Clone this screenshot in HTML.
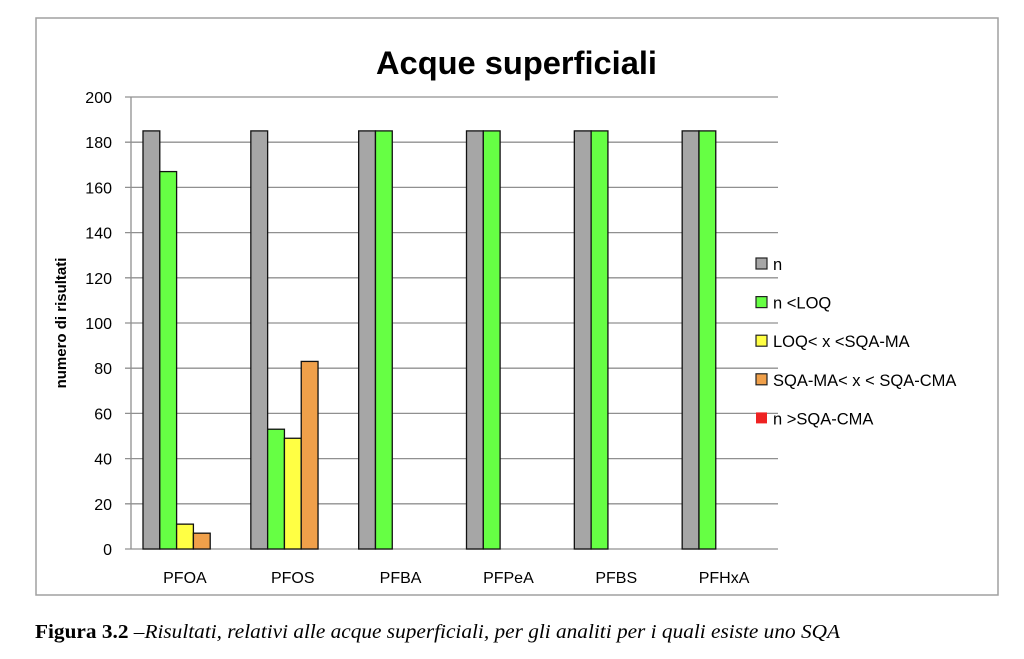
<!DOCTYPE html>
<html><head><meta charset="utf-8"><style>
body{margin:0;background:#fff;width:1024px;height:654px;overflow:hidden}
svg text{font-family:"Liberation Sans",sans-serif}
</style></head><body>
<svg width="1024" height="654">
<rect x="36" y="18" width="962" height="577" fill="#fff" stroke="#a0a0a0" stroke-width="1.5"/>
<text x="376" y="74" textLength="281" lengthAdjust="spacingAndGlyphs" font-size="32" font-weight="bold">Acque superficiali</text>
<text transform="translate(66,323) rotate(-90)" text-anchor="middle" font-size="15" font-weight="bold">numero di risultati</text>
<g id="grid"></g><g id="bars"></g><g id="legend"></g>
<text x="35" y="638" font-size="20" textLength="805" lengthAdjust="spacingAndGlyphs" style="font-family:'Liberation Serif',serif"><tspan font-weight="bold">Figura 3.2</tspan><tspan font-style="italic"> –Risultati, relativi alle acque superficiali, per gli analiti per i quali esiste uno SQA</tspan></text>
</svg>
<script>
const categories=["PFOA","PFOS","PFBA","PFPeA","PFBS","PFHxA"];
const seriesNames=["n","n <LOQ","LOQ< x <SQA-MA","SQA-MA< x < SQA-CMA","n >SQA-CMA"];
const sN=[185,185,185,185,185,185];
const sLOQ=[167,53,185,185,185,185];
const sMA=[11,49,0,0,0,0];
const sCMA=[7,83,0,0,0,0];
const sOver=[0,0,0,0,0,0];
const yTicks=[0,20,40,60,80,100,120,140,160,180,200];
const colors=["#a6a6a6","#66ff44","#ffff44","#f0a04a","#ee2222"];
const series=[sN,sLOQ,sMA,sCMA,sOver];
const NS="http://www.w3.org/2000/svg";
const X0=131,X1=778,Y0=549,Y1=97,YMAX=200;
const y=v=>Y0-(v/YMAX)*(Y0-Y1);
const gw=(X1-X0)/categories.length, bw=16.8, off=12;
function mk(t,a,p){const e=document.createElementNS(NS,t);for(const k in a)e.setAttribute(k,a[k]);p.appendChild(e);return e;}
const grid=document.getElementById('grid');
yTicks.forEach(t=>{
 const l=mk('line',{x1:125,x2:X1,y1:y(t),y2:y(t),stroke:'#909090','stroke-width':1.3},grid);
 
 
 const tx=mk('text',{x:112,y:y(t)+6,'text-anchor':'end','font-size':16},grid);tx.textContent=t;
 
 
});
const ax=mk('line',{x1:X0,x2:X0,y1:Y1,y2:Y0,stroke:'#909090','stroke-width':1.3},grid);


const bars=document.getElementById('bars');
categories.forEach((c,i)=>{
 const gx=X0+i*gw;
 series.forEach((s,j)=>{
  if(s[i]<=0)return;
  const r=mk('rect',{x:gx+off+j*bw,y:y(s[i]),width:bw,height:Y0-y(s[i]),fill:colors[j],stroke:'#111','stroke-width':1.3},bars);
  
  
 });
 const t=mk('text',{x:gx+gw/2,y:583,'text-anchor':'middle','font-size':16},bars);t.textContent=c;
 
 
});
const lg=document.getElementById('legend');
seriesNames.forEach((n,j)=>{
 const ly=264+j*38.6;
 const r=mk('rect',{x:756,y:ly-6,width:11,height:11,fill:colors[j],stroke:j<4?'#222':'none','stroke-width':1.2},lg);
 
 
 const t=mk('text',{x:773,y:ly+6,'font-size':16.5},lg);t.textContent=n;
 
 
});
</script>
</body></html>
